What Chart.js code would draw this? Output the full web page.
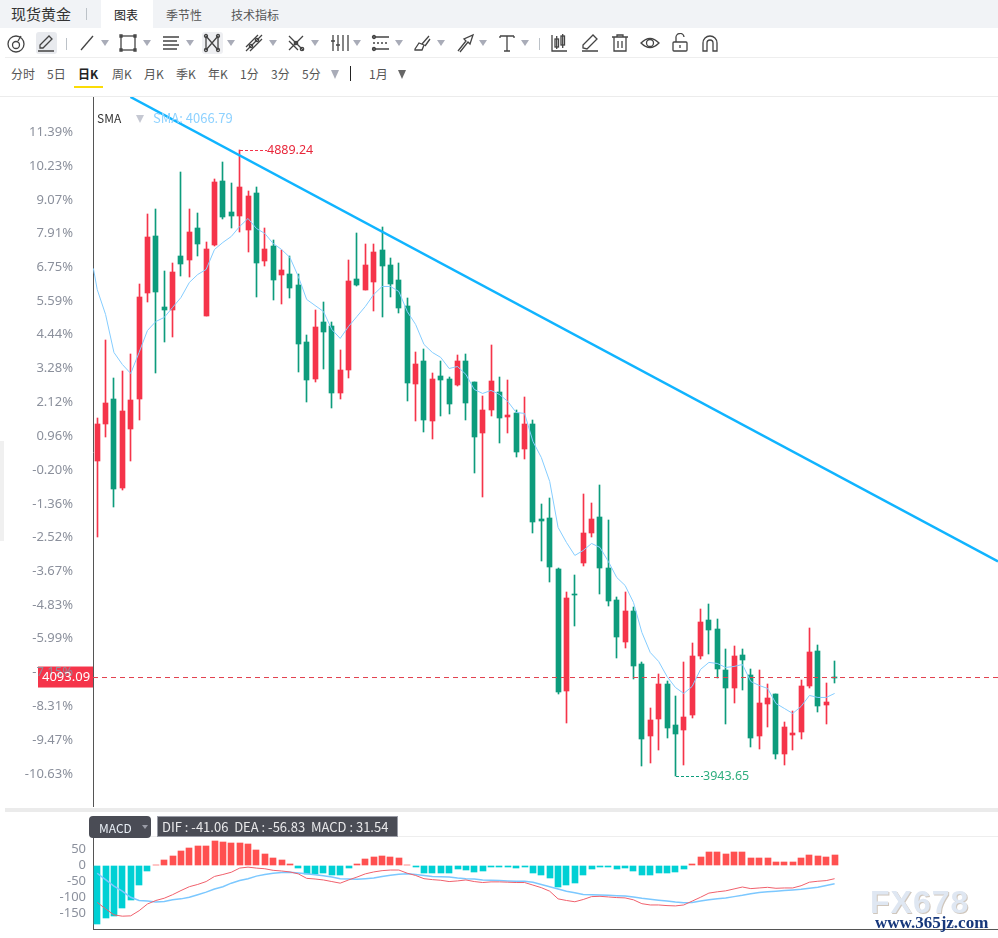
<!DOCTYPE html>
<html>
<head>
<meta charset="utf-8">
<title>现货黄金</title>
<script src="https://cdn.jsdelivr.net/npm/chart.js@4"></script>
<style>
    html, body { margin: 0; padding: 0; background: #fff; }
    body { position: relative; width: 998px; height: 938px; overflow: hidden; font-family: "Noto Sans CJK SC", "Noto Sans", sans-serif; color: #555; }
    .abs { position: absolute; white-space: nowrap; }
    canvas { position: absolute; left: 0; }
    #headerBar { left: 0; top: 0; width: 998px; height: 28px; background: #f1f3f6; }
    #tabActive { left: 101px; top: 0; width: 52px; height: 28px; background: #fff; }
    .tab { top: 6px; font-size: 12px; line-height: 17px; color: #555; }
    .period { top: 65px; font-size: 12px; line-height: 17px; color: #555; }
    .caret { width: 0; height: 0; border-left: 4px solid transparent; border-right: 4px solid transparent; border-top: 6px solid #a9acb8; }
    .sep { background: #bcc2c8; width: 1px; }
    .icon { width: 20px; height: 20px; top: 33px; }
    .icon * { fill: none; stroke: #444; stroke-width: 1.3; }
</style>
</head>
<body>
<div class="abs" id="headerBar"></div>
<div class="abs" id="tabActive"></div>
<div class="abs" style="left:11px;top:4px;font-size:15px;line-height:20px;color:#333">现货黄金</div>
<div class="abs sep" style="left:86px;top:8px;height:12px"></div>
<div class="abs tab" style="left:114px;color:#222">图表</div>
<div class="abs tab" style="left:166px">季节性</div>
<div class="abs tab" style="left:231px">技术指标</div>

<div class="abs" style="left:36px;top:32px;width:21px;height:22px;background:#e8eaee;border-radius:3px"></div>
<div class="abs" style="left:202px;top:32px;width:21px;height:22px;background:#eeeff2;border-radius:3px"></div>
<div class="abs sep" style="left:66px;top:38px;height:12px"></div>
<div class="abs sep" style="left:539px;top:38px;height:12px"></div>
<div class="abs" style="left:5px;top:57px;width:993px;height:1px;background:#eee"></div>

<div class="abs period" style="left:11px">分时</div>
<div class="abs period" style="left:47px">5日</div>
<div class="abs period" style="left:78px;color:#222;font-weight:700">日K</div>
<div class="abs" style="left:74px;top:86px;width:29px;height:2px;background:#fbdc06"></div>
<div class="abs period" style="left:112px">周K</div>
<div class="abs period" style="left:144px">月K</div>
<div class="abs period" style="left:176px">季K</div>
<div class="abs period" style="left:208px">年K</div>
<div class="abs period" style="left:240px">1分</div>
<div class="abs period" style="left:271px">3分</div>
<div class="abs period" style="left:302px">5分</div>
<div class="abs caret" style="left:331px;top:70px;border-top-width:9px;border-left-width:4px;border-right-width:4px"></div>
<div class="abs" style="left:350px;top:66px;width:1px;height:15px;background:#222"></div>
<div class="abs period" style="left:369px">1月</div>
<div class="abs caret" style="left:398px;top:70px;border-top:9px solid #666"></div>
<div class="abs" style="left:0;top:96px;width:998px;height:1px;background:#ececec"></div>

<div class="abs" style="left:0;top:441px;width:4px;height:100px;background:#f0f0f0"></div>
<div class="abs" style="left:5px;top:808px;width:993px;height:4px;background:#ebebeb"></div>
<div class="abs" style="left:93px;top:836px;width:905px;height:1px;background:#eee"></div>

<canvas id="priceChart" width="998" height="710" style="top:97px;width:998px;height:710px"></canvas>
<canvas id="macdChart" width="998" height="93" style="top:837px;width:998px;height:93px"></canvas>

<div class="abs" style="left:97px;top:109px;font-size:12px;line-height:17px;color:#333">SMA</div>
<div class="abs caret" style="left:136px;top:115px;border-top:8px solid #c5c8d2"></div>
<div class="abs" style="left:153px;top:109px;font-size:13px;line-height:17px;color:#8fd2ff">SMA: 4066.79</div>

<div class="abs" style="left:89px;top:816px;width:62px;height:22px;background:#4a4c55;border-radius:4px"></div>
<div class="abs" style="left:99px;top:819px;font-size:12px;line-height:17px;color:#e8eef5">MACD</div>
<div class="abs" style="left:142px;top:825px;width:0;height:0;border-left:3px solid transparent;border-right:3px solid transparent;border-top:4px solid #9a9ca6"></div>
<div class="abs" style="left:158px;top:817px;width:239px;height:19px;background:#4a4c55;outline:1px solid #9a9ca6"></div>
<div class="abs" style="left:162px;top:818px;font-size:13px;line-height:17px;color:#e8e8ea">DIF : -41.06&nbsp;&nbsp;DEA : -56.83&nbsp;&nbsp;MACD : 31.54</div>

<div class="abs" style="left:870px;top:883px;font-family:'Liberation Sans';font-weight:700;font-size:32px;line-height:38px;letter-spacing:1px;color:#dfe7f2;text-shadow:1px 1px 0 #cfc6bc">FX678</div>
<div class="abs" style="left:875px;top:913px;font-family:'Liberation Serif';font-weight:700;font-size:17px;line-height:20px;color:#17387c">www.365jz.com</div>

<script>
// day slots on the time axis: traded days plus the empty room on the right
const slotCount = 108;

const openPrices = [4419.5,4475.3,4513.1,4378.8,4467.8,4513.1,4673.2,4759.3,4652.1,4649.0,
    4729.1,4723.1,4771.4,4638.5,4745.7,4842.4,4795.6,4789.5,4768.4,4824.3,
    4721.6,4744.2,4700.4,4701.9,4685.3,4599.2,4543.3,4629.4,4623.4,4522.2,
    4556.9,4694.4,4677.8,4689.9,4738.2,4715.5,4692.9,4653.6,4535.8,4570.5,
    4479.9,4547.9,4543.3,4534.3,4570.5,4538.8,4461.8,4496.5,4523.7,4485.9,
    4492.0,4437.6,4475.3,4331.9,4333.4,4256.3,4072.0,4218.6,4265.4,4310.7,
    4334.9,4257.8,4209.5,4146.1,4192.9,4112.8,4004.1,4029.7,4082.6,4020.7,
    4013.1,4035.8,4124.9,4179.3,4165.7,4103.8,4076.6,4126.4,4096.2,4004.1,
    4052.4,4067.5,3976.9,4005.6,4010.1,4079.6,4132.5,4050.9,4093.5];
const closePrices = [4475.3,4507.1,4377.2,4495.0,4511.6,4667.2,4757.8,4674.7,4649.0,4704.9,
    4717.0,4765.4,4747.2,4739.7,4840.9,4788.0,4789.5,4833.3,4819.7,4718.5,
    4739.7,4692.9,4708.0,4680.8,4596.2,4541.8,4621.9,4614.3,4522.2,4556.9,
    4691.4,4685.3,4715.5,4735.2,4714.0,4686.8,4650.6,4537.3,4566.0,4481.4,
    4543.3,4541.8,4505.6,4570.5,4507.1,4455.7,4496.5,4540.3,4484.4,4488.9,
    4433.1,4475.3,4327.3,4328.8,4259.3,4070.5,4212.5,4217.0,4310.7,4331.9,
    4257.8,4208.0,4154.6,4192.9,4109.8,3999.5,4028.2,4082.6,4016.2,4007.1,
    4032.8,4124.9,4176.3,4164.2,4105.3,4076.6,4124.9,4118.9,4001.0,4053.9,
    4061.5,3976.9,4017.7,4008.6,4079.6,4130.9,4049.4,4055.4,4093.09];
const highPrices = [4484.4,4602.2,4544.8,4555.4,4581.1,4686.8,4792.6,4800.1,4706.5,4718.5,
    4856.0,4800.1,4794.1,4750.3,4845.4,4871.1,4839.4,4889.24,4827.3,4833.3,
    4771.4,4753.3,4738.2,4729.1,4701.9,4609.8,4647.5,4659.6,4629.4,4587.1,
    4723.1,4763.9,4748.7,4748.7,4772.9,4726.1,4718.5,4665.7,4584.1,4588.6,
    4552.4,4570.5,4546.3,4579.6,4581.1,4538.8,4517.6,4594.7,4546.3,4541.8,
    4496.5,4516.1,4481.4,4354.5,4363.6,4257.8,4221.6,4247.3,4369.6,4356.0,
    4383.2,4330.3,4214.0,4221.6,4198.9,4115.9,4046.4,4097.7,4087.1,4064.5,
    4115.9,4144.5,4195.9,4203.5,4180.8,4135.5,4140.0,4135.5,4105.3,4103.8,
    4082.6,4067.5,4025.2,4041.8,4088.7,4167.2,4141.5,4084.1,4117.4];
const lowPrices = [4304.7,4455.7,4350.0,4375.7,4419.5,4481.4,4659.6,4552.4,4599.2,4606.8,
    4698.9,4697.4,4729.1,4638.5,4744.2,4785.0,4771.4,4765.4,4735.2,4667.2,
    4714.0,4662.7,4656.6,4665.7,4553.9,4508.6,4538.8,4558.4,4499.5,4513.1,
    4544.8,4683.8,4677.8,4646.0,4637.0,4667.2,4643.0,4510.1,4479.9,4463.3,
    4452.7,4487.4,4490.5,4532.8,4481.4,4401.3,4365.1,4487.4,4446.7,4461.8,
    4425.5,4422.5,4310.7,4268.4,4236.7,4067.5,4023.7,4170.2,4261.0,4304.7,
    4218.6,4200.4,4122.0,4137.0,4090.2,3958.8,3963.3,3982.9,4001.0,3943.65,
    3960.3,4031.3,4120.4,4127.9,4091.7,4022.2,4053.9,4073.6,3987.5,3984.4,
    4017.7,3969.3,3960.3,3982.9,3999.5,4076.6,4040.3,4022.2,4084.1];
const smaStart = 4711.0;
const smaValues = [4679.3,4641.5,4584.1,4566.0,4552.4,4584.1,4617.3,4630.9,4637.0,4652.1,
    4667.2,4689.9,4701.9,4709.5,4739.7,4750.3,4759.3,4774.4,4786.5,4771.4,
    4763.9,4748.7,4739.7,4727.6,4698.9,4664.2,4655.1,4646.0,4618.8,4605.3,
    4623.4,4638.5,4653.6,4671.7,4683.8,4683.8,4676.2,4646.0,4626.4,4596.2,
    4584.1,4576.6,4559.9,4562.9,4550.9,4528.2,4522.2,4526.7,4520.7,4510.1,
    4493.5,4492.0,4449.7,4425.5,4389.3,4319.8,4297.1,4277.5,4285.0,4295.6,
    4289.6,4268.4,4244.2,4232.2,4206.5,4161.2,4130.9,4117.4,4094.7,4078.1,
    4069.0,4079.6,4105.3,4115.9,4114.3,4108.3,4109.8,4112.8,4087.1,4081.1,
    4076.6,4053.9,4046.4,4038.8,4049.4,4066.0,4063.0,4063.0,4069.0];

const percentTicks = [11.39,10.23,9.07,7.91,6.75,5.59,4.44,3.28,2.12,0.96,-0.20,-1.36,-2.52,-3.67,-4.83,-5.99,-7.15,-8.31,-9.47,-10.63];
const percentBase = 4415.35;
const percentUnit = 44.03;
const priceMin = 3897.5;
const priceMax = 4970.0;
const lastPrice = 4093.09;
const highLabel = 4889.24;
const lowLabel = 3943.65;
const highDay = 17;
const lowDay = 69;
const trendDays = [3.97, 107.5];
const trendPrices = [4970.0, 4268.4];

const macdBars = [-181,-164,-159,-134,-107,-62,-17,3,16,31,44,56,62,62,75,72,69,69,67,47,
    37,22,16,6,-9,-25,-25,-22,-31,-28,-9,6,19,28,31,28,22,3,-6,-22,
    -22,-22,-23,-12,-14,-20,-16,-6,-5,-5,-8,-5,-22,-28,-40,-68,-62,-53,-31,-12,
    -6,-6,-12,-8,-16,-31,-31,-22,-22,-19,-12,6,28,41,41,37,41,41,25,25,
    25,12,12,12,22,34,31,28,31.54];
const difValues = [-115,-135,-154,-158,-157,-141,-120,-109,-102,-91,-78,-66,-59,-50,-34,-28,-21,-8,-5,-8,
    -10,-15,-17,-20,-26,-40,-42,-45,-50,-55,-45,-36,-26,-20,-16,-14,-14,-24,-31,-41,
    -44,-46,-50,-48,-45,-50,-53,-51,-51,-52,-53,-53,-61,-69,-80,-104,-109,-113,-106,-97,
    -96,-98,-100,-101,-107,-119,-123,-123,-125,-126,-123,-111,-99,-86,-82,-79,-73,-67,-72,-70,
    -68,-71,-70,-70,-63,-52,-49,-47,-41.06];
const deaValues = [-24,-44,-64,-80,-99,-109,-111,-114,-112,-107,-104,-99,-91,-83,-73,-66,-55,-47,-41,-33,
    -28,-24,-22,-21,-23,-26,-29,-32,-36,-41,-42,-43,-41,-39,-34,-30,-27,-26,-28,-31,
    -34,-35,-36,-39,-41,-42,-45,-46,-47,-48,-49,-49,-52,-59,-66,-73,-80,-85,-90,-91,
    -92,-93,-94,-95,-98,-102,-105,-108,-111,-114,-116,-115,-111,-107,-104,-101,-97,-93,-88,-84,
    -82,-80,-78,-76,-74,-71,-68,-62,-56.83];
const macdTicks = [50, 0, -50, -100, -150];

const upColor = '#f5344a';
const downColor = '#0d9c7c';
const tickColor = '#8b909c';
const axisColor = '#555';
const textFont = '"Noto Sans", "Noto Sans CJK SC", sans-serif';

const dayLabels = Array.from({ length: slotCount }, (_, i) => 'D' + (i + 1));
const candleColors = openPrices.map((o, i) => closePrices[i] >= o ? upColor : downColor);

// fixed left gutter, and no room kept above/below for the first and last label
function fitLeftAxis(axis) {
    axis.width = 93;
    axis.paddingTop = 0;
    axis.paddingBottom = 0;
}

// line up bars on whole pixels so wicks stay 1px sharp
const snapBars = {
    id: 'snapBars',
    afterDatasetsUpdate(chart) {
        chart.data.datasets.forEach((ds, i) => {
            const meta = chart.getDatasetMeta(i);
            if (meta.type !== 'bar') return;
            meta.data.forEach(el => {
                el.x = ds.barThickness % 2 ? Math.floor(el.x) + 0.5 : Math.round(el.x);
                el.y = Math.round(el.y);
                el.base = Math.round(el.base);
            });
        });
    }
};

// price tag behind the axis labels, its text and the high/low markers on top
const priceTags = {
    id: 'priceTags',
    beforeDraw(chart) {
        const y = chart.scales.y.getPixelForValue(lastPrice);
        chart.ctx.fillStyle = upColor;
        chart.ctx.fillRect(38, y - 11, 55, 21);
    },
    afterDraw(chart) {
        const { ctx, scales } = chart;
        const y = scales.y.getPixelForValue(lastPrice);
        ctx.save();
        ctx.font = '13px ' + textFont;
        ctx.textBaseline = 'middle';
        ctx.fillStyle = '#fff';
        ctx.fillText(lastPrice.toFixed(2), 42, y);

        ctx.font = '12.5px ' + textFont;
        const marks = [[highDay, highLabel, upColor, '#e8283c'], [lowDay, lowLabel, downColor, '#2fae7e']];
        marks.forEach(([day, price, lineColor, labelColor]) => {
            const px = Math.floor(scales.x.getPixelForValue(day)) + 1;
            const py = Math.round(scales.y.getPixelForValue(price)) + 0.5;
            ctx.strokeStyle = lineColor;
            ctx.lineWidth = 1;
            ctx.setLineDash([3, 2]);
            ctx.beginPath();
            ctx.moveTo(px, py);
            ctx.lineTo(px + 27, py);
            ctx.stroke();
            ctx.fillStyle = labelColor;
            ctx.fillText(price.toFixed(2), px + 27, py);
        });
        ctx.restore();
    }
};

new Chart(document.getElementById('priceChart'), {
    type: 'bar',
    data: {
        labels: dayLabels,
        datasets: [
            {
                type: 'line',
                data: trendDays.map((d, i) => ({ x: d, y: trendPrices[i] })),
                xAxisID: 'slot',
                borderColor: '#10b4ff',
                borderWidth: 2.5,
                pointRadius: 0,
                order: 0
            },
            {
                type: 'line',
                data: [{ x: -0.45, y: smaStart }, ...smaValues.map((y, i) => ({ x: i, y }))],
                xAxisID: 'slot',
                borderColor: '#85cdff',
                borderWidth: 1,
                pointRadius: 0,
                order: 1
            },
            {
                type: 'line',
                data: [{ x: -0.5, y: lastPrice }, { x: slotCount - 0.5, y: lastPrice }],
                xAxisID: 'slot',
                borderColor: '#e2404e',
                borderWidth: 1,
                borderDash: [5, 4],
                pointRadius: 0,
                order: 2
            },
            {
                data: openPrices.map((o, i) => [o, closePrices[i]]),
                backgroundColor: candleColors,
                barThickness: 5,
                borderSkipped: false,
                grouped: false,
                order: 3
            },
            {
                data: lowPrices.map((l, i) => [l, highPrices[i]]),
                backgroundColor: candleColors,
                barThickness: 1,
                borderSkipped: false,
                grouped: false,
                order: 4
            }
        ]
    },
    options: {
        responsive: false,
        animation: false,
        devicePixelRatio: 1,
        layout: { padding: 0 },
        plugins: { legend: { display: false }, tooltip: { enabled: false } },
        scales: {
            x: { display: false, offset: true },
            slot: { type: 'linear', axis: 'x', position: 'bottom', display: false, offset: false, min: -0.5, max: slotCount - 0.5 },
            y: {
                min: priceMin,
                max: priceMax,
                afterBuildTicks: axis => {
                    axis.ticks = percentTicks.map(p => ({ value: percentBase + percentUnit * p }));
                },
                afterFit: fitLeftAxis,
                grid: { drawOnChartArea: false, drawTicks: false },
                border: { color: axisColor, width: 1 },
                ticks: {
                    autoSkip: false,
                    padding: 20,
                    color: tickColor,
                    font: { size: 13, family: textFont },
                    callback: (value, index) => percentTicks[index].toFixed(2) + '%'
                }
            }
        }
    },
    plugins: [snapBars, priceTags]
});

new Chart(document.getElementById('macdChart'), {
    type: 'bar',
    data: {
        labels: dayLabels,
        datasets: [
            {
                type: 'line',
                data: difValues,
                borderColor: '#f0606c',
                borderWidth: 1,
                pointRadius: 0,
                order: 0
            },
            {
                type: 'line',
                data: deaValues,
                borderColor: '#7cc8ff',
                borderWidth: 1.5,
                pointRadius: 0,
                order: 1
            },
            {
                data: macdBars,
                backgroundColor: macdBars.map(v => v >= 0 ? '#ff5050' : '#00d0d4'),
                barThickness: 6,
                order: 2
            }
        ]
    },
    options: {
        responsive: false,
        animation: false,
        devicePixelRatio: 1,
        layout: { padding: 0 },
        plugins: { legend: { display: false }, tooltip: { enabled: false } },
        scales: {
            x: {
                offset: true,
                grid: { display: false },
                border: { color: axisColor, width: 1 },
                ticks: { display: false },
                afterFit: axis => { axis.height = 1; }
            },
            y: {
                min: -198,
                max: 89,
                afterBuildTicks: axis => {
                    axis.ticks = macdTicks.map(v => ({ value: v }));
                },
                afterFit: fitLeftAxis,
                grid: { drawOnChartArea: false, drawTicks: false },
                border: { color: axisColor, width: 1 },
                ticks: {
                    autoSkip: false,
                    padding: 7,
                    color: tickColor,
                    font: { size: 13, family: textFont }
                }
            }
        }
    },
    plugins: [snapBars]
});

// toolbar icons
const toolIcons = [
    [6, '<circle cx="10" cy="11" r="8"/><circle cx="10" cy="12" r="3.5"/><path d="M12 8 L15 3"/>'],
    [36, '<path d="M4 15 L4 12 L13 3 L16 6 L7 15 Z M2 18 H18"/>'],
    [77, '<path d="M4 17 L16 3"/>'],
    [118, '<rect x="3" y="3" width="14" height="14"/><path d="M2 2h2v2h-2zM16 2h2v2h-2zM2 16h2v2h-2zM16 16h2v2h-2z"/>'],
    [161, '<path d="M2 4 H18 M2 8 H16 M2 12 H18 M2 16 H16"/>'],
    [202, '<path d="M4 3 V17 M16 3 V17 M4 3 L16 17 M16 3 L4 17"/><circle cx="4" cy="3" r="1.5"/><circle cx="16" cy="3" r="1.5"/><circle cx="4" cy="17" r="1.5"/><circle cx="16" cy="17" r="1.5"/>'],
    [244, '<path d="M2 18 L18 2 M2 14 L14 2 M6 18 L18 6"/><circle cx="7" cy="13" r="1.7"/><circle cx="13" cy="7" r="1.7"/>'],
    [286, '<path d="M3 3 L17 17 M17 3 L3 17 M3 8 L12 17"/><circle cx="10" cy="10" r="1.7"/><circle cx="16" cy="16" r="1.7"/>'],
    [330, '<path d="M3 2 V18 M8 2 V18 M13 2 V18 M18 2 V18"/><path d="M1 8h4M6 12h4"/>'],
    [371, '<path d="M2 4 H18 M2 16 H18"/><path d="M2 10 H18" stroke-dasharray="2 2"/><circle cx="3" cy="4" r="1.5"/><circle cx="3" cy="16" r="1.5"/>'],
    [412, '<path d="M3 16 L7 10 L12 12 L10 17 H3 Z M10 11 L17 3 M13 13 L18 6"/>'],
    [455, '<path d="M3 18 L11 8 L9 6 L18 2 L15 11 L13 9 L5 19"/>'],
    [497, '<path d="M3 3 H17 M10 3 V18 M7 18 H13 M3 3 V5 M17 3 V5"/>'],
    [549, '<path d="M3 2 V18 H18"/><rect x="6" y="6" width="3.5" height="8"/><rect x="12" y="3" width="3.5" height="9"/><path d="M7.7 3 V16 M13.7 1 V15"/>'],
    [580, '<path d="M3 15 L3 12 L13 2 L17 6 L7 16 Z M2 18 H18"/>'],
    [610, '<path d="M2 4 H18 M7 4 V2 H13 V4 M4 4 V18 H16 V4 M8 8 V15 M12 8 V15"/>'],
    [640, '<path d="M1 10 Q10 1 19 10 Q10 19 1 10 Z"/><circle cx="10" cy="10" r="3.5"/>'],
    [670, '<rect x="3" y="9" width="14" height="9" rx="1"/><path d="M6 9 V5 A4 4 0 0 1 14 4 M10 12 V15"/>'],
    [700, '<path d="M3 18 V10 A7 7 0 0 1 17 10 V18 H13 V10 A3 3 0 0 0 7 10 V18 Z"/>']
];
const toolCarets = [101, 143, 186, 227, 269, 311, 353, 395, 437, 479, 521];

toolIcons.forEach(([left, shape]) => {
    const holder = document.createElement('div');
    holder.className = 'abs icon';
    holder.style.left = left + 'px';
    holder.innerHTML = '<svg width="20" height="20" viewBox="0 0 20 20">' + shape + '</svg>';
    document.body.appendChild(holder);
});
toolCarets.forEach(left => {
    const caret = document.createElement('div');
    caret.className = 'abs caret';
    caret.style.left = left + 'px';
    caret.style.top = '40px';
    document.body.appendChild(caret);
});
</script>
</body>
</html>
